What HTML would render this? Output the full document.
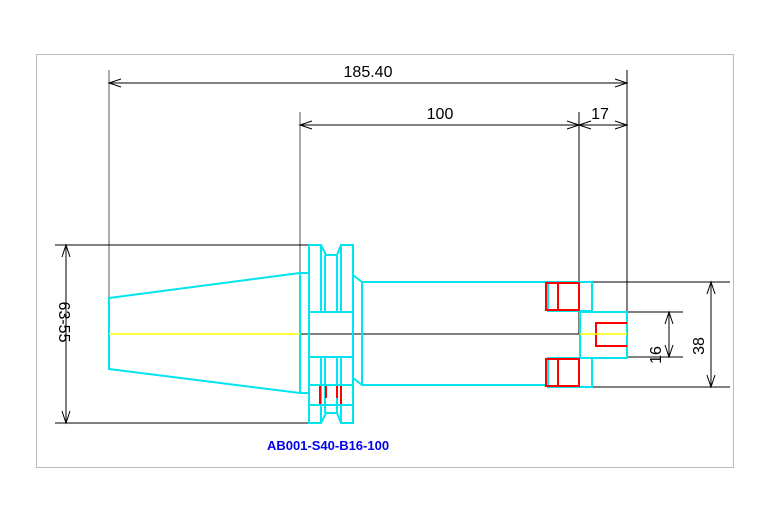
<!DOCTYPE html>
<html><head><style>body{margin:0;background:#fff}svg{display:block}</style></head><body>
<svg width="767" height="523" xmlns="http://www.w3.org/2000/svg" font-family="Liberation Sans, sans-serif">
<rect x="0" y="0" width="767" height="523" fill="#fff"/>
<rect x="36.5" y="54.5" width="697" height="413" fill="none" stroke="#bbb" stroke-width="1"/>
<g stroke="#000" stroke-width="1" fill="none">
<line x1="109" y1="70" x2="109" y2="300" stroke="#555"/>
<line x1="300" y1="112" x2="300" y2="334" stroke="#555"/>
<line x1="579" y1="112" x2="579" y2="334"/>
<line x1="627" y1="70" x2="627" y2="312"/>
<line x1="109" y1="83" x2="627" y2="83"/>
<path d="M121,79 L109,83 L121,87 M615,79 L627,83 L615,87"/>
<line x1="300" y1="125" x2="627" y2="125"/>
<path d="M312,121 L300,125 L312,129 M567,121 L579,125 L567,129 M591,121 L579,125 M591,129 L579,125 M615,121 L627,125 L615,129"/>
<line x1="55" y1="245" x2="309" y2="245"/>
<line x1="55" y1="423" x2="309" y2="423"/>
<line x1="66" y1="245" x2="66" y2="423"/>
<path d="M62,257 L66,245 L70,257 M62,411 L66,423 L70,411"/>
<line x1="580" y1="282" x2="730" y2="282"/>
<line x1="580" y1="387" x2="730" y2="387"/>
<line x1="711" y1="282" x2="711" y2="387"/>
<path d="M707,294 L711,282 L715,294 M707,375 L711,387 L715,375"/>
<line x1="627" y1="312" x2="683" y2="312"/>
<line x1="627" y1="357" x2="683" y2="357"/>
<line x1="669" y1="312" x2="669" y2="357"/>
<path d="M665,324 L669,312 L673,324 M665,345 L669,357 L673,345"/>
<line x1="300" y1="334" x2="580" y2="334"/>
</g>
<g stroke="#00e5ee" stroke-width="2" fill="none">
<path d="M300,273 L109,298 L109,369 L300,393 Z"/>
<line x1="300" y1="273" x2="309" y2="273"/>
<line x1="300" y1="393" x2="309" y2="393"/>
<path d="M309,245 L321,245 L326,255 L337,255 L341,245 L353,245 L353,423 L341,423 L337,413 L326,413 L321,423 L309,423 Z"/>
<path d="M353,275 L362,282 L548,282"/>
<path d="M353,378 L362,385 L548,385"/>
<line x1="321" y1="245" x2="321" y2="312"/><line x1="325" y1="255" x2="325" y2="312"/>
<line x1="337" y1="255" x2="337" y2="312"/><line x1="341" y1="245" x2="341" y2="312"/>
<line x1="321" y1="357" x2="321" y2="423"/><line x1="325" y1="357" x2="325" y2="413"/>
<line x1="337" y1="357" x2="337" y2="413"/><line x1="341" y1="357" x2="341" y2="423"/>
<line x1="309" y1="312" x2="353" y2="312"/><line x1="309" y1="357" x2="353" y2="357"/>
<line x1="309" y1="385" x2="353" y2="385"/><line x1="309" y1="405" x2="353" y2="405"/>
<line x1="362" y1="282" x2="362" y2="385"/>
<rect x="548" y="282" width="44" height="29"/>
<rect x="548" y="358" width="44" height="29"/>
<rect x="580" y="312" width="47" height="46"/>
</g>
<g stroke="#f00" stroke-width="2" fill="none">
<rect x="546" y="283" width="12" height="27"/><rect x="558" y="283" width="21" height="27"/>
<rect x="546" y="359" width="12" height="27"/><rect x="558" y="359" width="21" height="27"/>
<path d="M627,323 L596,323 L596,346 L627,346"/>
<line x1="320" y1="386" x2="320" y2="404"/><line x1="326" y1="386" x2="326" y2="398"/>
<line x1="337" y1="386" x2="337" y2="398"/><line x1="341" y1="386" x2="341" y2="404"/>
</g>
<line x1="109" y1="334" x2="300" y2="334" stroke="#ff0" stroke-width="1.5"/>
<line x1="580" y1="334" x2="627" y2="334" stroke="#ff0" stroke-width="1.5"/>
<g fill="#000" font-size="16">
<text x="368" y="77" text-anchor="middle">185.40</text>
<text x="440" y="119" text-anchor="middle">100</text>
<text x="600" y="119" text-anchor="middle">17</text>
<text transform="translate(59,322) rotate(90)" text-anchor="middle">63-55</text>
<text transform="translate(661,355) rotate(-90)" text-anchor="middle">16</text>
<text transform="translate(704,346) rotate(-90)" text-anchor="middle">38</text>
</g>
<text x="328" y="450" text-anchor="middle" fill="#0000ee" font-size="13" font-weight="bold">AB001-S40-B16-100</text>
</svg>
</body></html>
